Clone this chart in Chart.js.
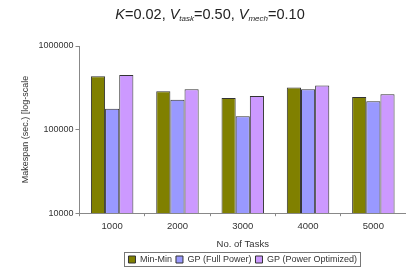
<!DOCTYPE html>
<html lang="en">
<head>
  <meta charset="UTF-8">
  <title>Makespan vs number of tasks</title>
  <script src="https://cdn.jsdelivr.net/npm/chart.js"></script>
  <style>
    html, body {
      margin: 0;
      padding: 0;
      background: #fff;
      font-family: "Liberation Sans", Arial, sans-serif;
    }
    #wrap {
      position: relative;
      width: 406px;
      height: 276px;
    }
    #title {
      position: absolute;
      top: 6px;
      left: 0;
      width: 420px;
      text-align: center;
      font-size: 14.5px;
      color: #222;
      white-space: nowrap;
    }
    #title sub {
      font-size: 8px;
      vertical-align: -2px;
    }
  </style>
</head>
<body>
  <div id="wrap">
    <div id="title"><i>K</i>=0.02, <i>V</i><sub><i>task</i></sub>=0.50, <i>V</i><sub><i>mech</i></sub>=0.10</div>
    <canvas id="chart" width="406" height="276"></canvas>
  </div>

  <script>
    const tasks = ['1000', '2000', '3000', '4000', '5000'];
    const minMin = [436000, 287000, 238000, 318000, 245000];
    const gpFull = [177000, 228000, 144000, 303000, 219000];
    const gpOpt = [451000, 303000, 252000, 336000, 264000];
    const yTicks = [10000, 100000, 1000000];

    // move the legend so it is centred under the plot area, not the canvas
    const legendShift = {
      id: 'legendShift',
      afterLayout(chart) {
        chart.legend.left = chart.chartArea.left;
        chart.legend.right = chart.chartArea.right;
        chart.legend.width = chart.chartArea.right - chart.chartArea.left;
      },
      afterDraw(chart) {
        const hb = chart.legend.legendHitBoxes;
        if (!hb || !hb.length) return;
        const ctx = chart.ctx;
        const first = hb[0], last = hb[hb.length - 1];
        ctx.save();
        ctx.strokeStyle = '#777';
        ctx.lineWidth = 1;
        ctx.strokeRect(Math.round(first.left) - 3.5, Math.round(first.top) - 2.5,
          Math.round(last.left + last.width - first.left) + 7, Math.round(first.height) + 5);
        ctx.restore();
      }
    };

    new Chart(document.getElementById('chart'), {
      type: 'bar',
      data: {
        labels: tasks,
        datasets: [
          { label: 'Min-Min', data: minMin, backgroundColor: '#808000' },
          { label: 'GP (Full Power)', data: gpFull, backgroundColor: '#9999ff' },
          { label: 'GP (Power Optimized)', data: gpOpt, backgroundColor: '#cc99ff' }
        ]
      },
      options: {
        responsive: false,
        animation: false,
        layout: { padding: { top: 46, left: 20, right: -5, bottom: 2 } },
        datasets: {
          bar: {
            borderColor: '#333',
            borderWidth: 1,
            borderSkipped: 'bottom',
            barPercentage: 1,
            categoryPercentage: 0.65
          }
        },
        scales: {
          x: {
            grid: { drawOnChartArea: false, tickLength: 3, color: '#888' },
            border: { color: '#888' },
            ticks: { color: '#333', font: { size: 9.5, family: 'Liberation Sans' }, padding: 4 },
            title: {
              display: true,
              text: 'No. of Tasks',
              color: '#333',
              font: { size: 9.5, family: 'Liberation Sans' },
              padding: { top: 3, bottom: 1 }
            }
          },
          y: {
            type: 'logarithmic',
            min: 10000,
            max: 1000000,
            afterBuildTicks(scale) {
              scale.ticks = yTicks.map(v => ({ value: v }));
            },
            afterFit(scale) {
              scale.width = 59.5;
            },
            grid: { drawOnChartArea: false, tickLength: 4, color: '#888' },
            border: { color: '#888' },
            ticks: {
              color: '#333',
              font: { size: 9, family: 'Liberation Sans' },
              padding: 2,
              callback: v => String(v)
            },
            title: {
              display: true,
              text: 'Makespan (sec.) [log-scale',
              color: '#333',
              font: { size: 9, family: 'Liberation Sans' },
              padding: 0
            }
          }
        },
        plugins: {
          legend: {
            position: 'bottom',
            labels: {
              boxWidth: 7,
              boxHeight: 7,
              padding: 4,
              color: '#333',
              font: { size: 9, family: 'Liberation Sans' }
            }
          },
          tooltip: { enabled: false }
        }
      },
      plugins: [legendShift]
    });
  </script>
</body>
</html>
